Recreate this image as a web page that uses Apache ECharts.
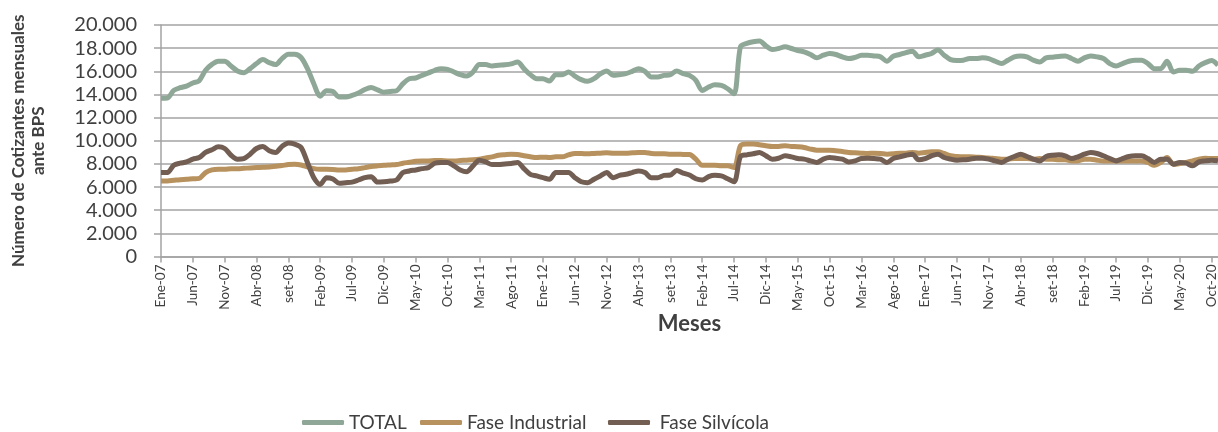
<!DOCTYPE html>
<html>
<head>
<meta charset="utf-8">
<script src="https://cdn.jsdelivr.net/npm/echarts@6/dist/echarts.min.js"></script>
<style>
html,body{margin:0;padding:0;background:#fff;}
#chart{width:1218px;height:432px;}
</style>
</head>
<body>
<div id="chart"></div>
<script>
const monthNames = ['Ene','Feb','Mar','Abr','May','Jun','Jul','Ago','set','Oct','Nov','Dic'];
const years = ['07','08','09','10','11','12','13','14','15','16','17','18','19','20'];
const seriesNames = ['TOTAL','Fase Industrial','Fase Silvícola'];

const total = [
13680,13700,14350,14580,14720,14990,15190,16090,16600,16870,16870,16460,
16030,15880,16230,16670,17010,16750,16580,17100,17480,17480,17190,16230,
14930,13850,14320,14250,13770,13770,13910,14120,14430,14600,14400,14200,
14260,14320,14930,15360,15420,15650,15860,16090,16230,16170,15940,15710,
15590,15940,16580,16580,16460,16520,16560,16640,16810,16230,15710,15360,
15360,15160,15710,15710,15940,15590,15280,15130,15360,15770,16030,15650,
15710,15800,16000,16230,16000,15510,15510,15650,15710,16030,15800,15650,
15220,14350,14640,14840,14780,14490,14060,18120,18410,18550,18610,18200,
17880,17970,18120,17970,17800,17680,17450,17160,17390,17540,17450,17250,
17100,17200,17380,17390,17330,17250,16870,17300,17450,17620,17740,17250,
17390,17540,17830,17390,17010,16930,16960,17100,17100,17160,17100,16870,
16670,16960,17250,17330,17250,16960,16810,17160,17220,17280,17330,17100,
16870,17160,17330,17250,17100,16670,16460,16670,16870,16960,16960,16670,
16230,16230,16870,15940,16090,16090,16000,16460,16750,16930,16520
];

const industrial = [
6520,6520,6580,6640,6670,6720,6750,7250,7480,7540,7540,7590,
7590,7620,7650,7680,7710,7740,7800,7860,7940,7970,7910,7740,
7590,7540,7540,7520,7480,7480,7540,7590,7680,7770,7830,7880,
7910,7940,8060,8140,8230,8260,8260,8290,8290,8260,8260,8290,
8320,8350,8410,8520,8610,8750,8800,8840,8810,8700,8610,8550,
8580,8550,8610,8610,8780,8900,8900,8870,8900,8930,8960,8930,
8930,8930,8960,8990,8990,8900,8870,8870,8840,8840,8820,8810,
8410,7880,7880,7880,7830,7830,7680,9570,9710,9710,9650,9570,
9510,9510,9570,9510,9480,9420,9280,9190,9190,9190,9130,9070,
8990,8960,8930,8900,8930,8900,8840,8870,8930,8930,8990,8930,
8990,9040,9040,8900,8700,8640,8610,8610,8580,8550,8520,8460,
8410,8410,8460,8460,8460,8410,8460,8410,8410,8350,8350,8260,
8260,8410,8410,8320,8260,8260,8260,8260,8260,8260,8260,8120,
7880,8120,8550,7970,8030,8120,8260,8410,8490,8460,8460
];

const silvicola = [
7250,7250,7880,8060,8170,8410,8550,8990,9220,9480,9330,8750,
8410,8460,8840,9330,9510,9130,8990,9510,9800,9710,9420,8120,
6810,6230,6810,6700,6320,6380,6430,6610,6810,6900,6430,6460,
6520,6610,7250,7390,7480,7590,7680,8060,8120,8120,7830,7480,
7330,7830,8320,8170,7940,7940,8000,8030,8120,7590,7100,6960,
6810,6670,7250,7250,7250,6810,6460,6380,6670,6960,7250,6810,
7010,7100,7250,7390,7250,6810,6810,7010,7040,7430,7200,7040,
6720,6610,6900,7010,6960,6720,6460,8640,8780,8870,8990,8700,
8410,8490,8700,8610,8460,8410,8260,8120,8410,8550,8490,8410,
8170,8260,8460,8490,8460,8410,8120,8460,8610,8750,8840,8350,
8460,8700,8840,8550,8410,8320,8350,8410,8490,8490,8410,8260,
8120,8410,8640,8840,8640,8410,8260,8640,8750,8780,8700,8460,
8610,8840,8990,8900,8700,8460,8260,8460,8640,8700,8700,8460,
8120,8410,8410,7970,8120,8060,7830,8170,8260,8320,8260
];

const categories = [];
for (const y of years) for (const m of monthNames) categories.push(m + '-' + y);
categories.length = total.length;

const colors = ['#8fa797', '#b8925e', '#725e52'];
const txt = '#404040';
const gridCol = '#a3a3a3';

const chart = echarts.init(document.getElementById('chart'), null, {renderer:'canvas'});
const legendBase = {
  orient:'horizontal', top: 413, padding: 0, itemWidth: 42, itemHeight: 5,
  icon: 'roundRect', textStyle:{fontFamily:'Lato', fontSize:19, color:txt}
};
chart.setOption({
  animation:false,
  color: colors,
  grid:{left:161, right:0, top:25, bottom:175.5, containLabel:false, outerBoundsMode:'none'},
  legend:[
    Object.assign({}, legendBase, {left:302, data:[seriesNames[0]]}),
    Object.assign({}, legendBase, {left:420, data:[seriesNames[1]]}),
    Object.assign({}, legendBase, {left:608, data:[seriesNames[2]], formatter: n => ' ' + n})
  ],
  xAxis:{
    type:'category', data:categories, boundaryGap:false,
    name:'Meses', nameLocation:'middle', nameGap:56, nameMoveOverlap:false,
    nameTextStyle:{fontFamily:'Lato', fontWeight:'bold', fontSize:22, color:txt},
    axisLine:{lineStyle:{color:gridCol, width:1.5}},
    axisTick:{show:true, interval:4, length:6, alignWithLabel:true, lineStyle:{color:gridCol, width:1.5}},
    axisLabel:{interval:4, rotate:90, margin:8, fontFamily:'Lato', fontSize:13.5, color:txt},
    splitLine:{show:false}
  },
  yAxis:{
    type:'value', min:0, max:20000, interval:2000,
    name:'Número de Cotizantes mensuales\nante BPS', nameLocation:'middle', nameGap:112, nameRotate:90, nameMoveOverlap:false,
    nameTextStyle:{fontFamily:'Lato', fontWeight:'bold', fontSize:17, color:txt, lineHeight:20, align:'center'},
    axisLine:{show:true, lineStyle:{color:gridCol, width:1.5}},
    axisTick:{show:true, length:7, lineStyle:{color:gridCol, width:1.5}},
    axisLabel:{margin:24, fontFamily:'Lato', fontSize:20, color:txt,
      formatter: v => String(v).replace(/\B(?=(\d{3})+(?!\d))/g, '.')},
    splitLine:{show:true, lineStyle:{color:gridCol, width:1.5}}
  },
  series:[
    {name:seriesNames[0], type:'line', data:total, showSymbol:false, smooth:0.3, lineStyle:{width:5, color:colors[0]}, itemStyle:{color:colors[0]}},
    {name:seriesNames[1], type:'line', data:industrial, showSymbol:false, smooth:0.3, lineStyle:{width:5, color:colors[1]}, itemStyle:{color:colors[1]}},
    {name:seriesNames[2], type:'line', data:silvicola, showSymbol:false, smooth:0.3, lineStyle:{width:5, color:colors[2]}, itemStyle:{color:colors[2]}}
  ]
});
</script>
</body>
</html>
